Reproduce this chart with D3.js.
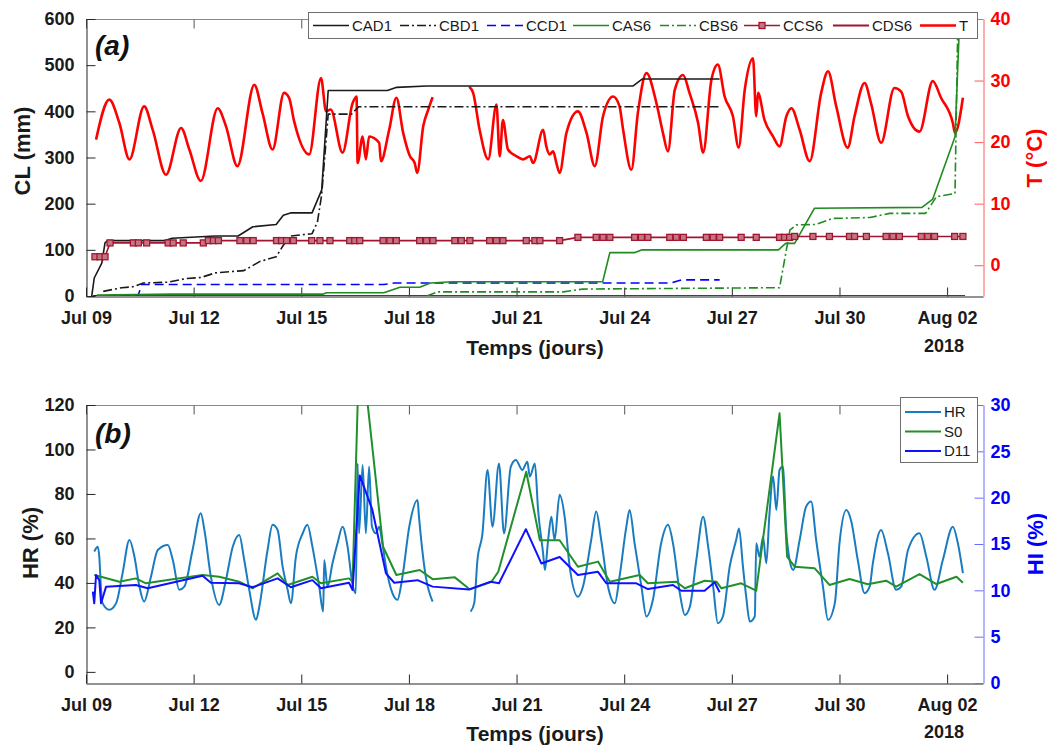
<!DOCTYPE html>
<html>
<head>
<meta charset="utf-8">
<script src="https://cdn.jsdelivr.net/npm/d3@7"></script>
<style>
  body { margin: 0; background: #fff; }
  svg { display: block; font-family: "Liberation Sans", Arial, sans-serif; }
</style>
</head>
<body>
<svg width="1047" height="748"></svg>
<script>
/* ===============================
   Data  (x = days since Jul 09 2018 00:00)
   =============================== */
const xTickDays = [0, 3, 6, 9, 12, 15, 18, 21, 24];
const clTicks = [0, 100, 200, 300, 400, 500, 600];
const tTicks = [0, 10, 20, 30, 40];
const hrTicks = [0, 20, 40, 60, 80, 100, 120];
const hiTicks = [0, 5, 10, 15, 20, 25, 30];
const namesA = ["CAD1", "CBD1", "CCD1", "CAS6", "CBS6", "CCS6", "CDS6", "T"];
const namesB = ["HR", "S0", "D11"];

const cad1 = [[0.16,0],[0.23,39],[0.44,71],[0.53,115],[0.6,120],[2.2,120],[2.4,125],[3.6,130],[4.24,130],
  [4.65,150],[5.3,155],[5.5,175],[5.7,180],[6.3,180],[6.57,230],[6.75,445],[8.4,445],[8.66,452],[9.5,455],
  [15.25,455],[15.5,470],[17.66,470]];
const cbd1 = [[0.48,10],[1.0,18],[1.3,20],[1.6,28],[2.3,30],[2.8,38],[3.2,40],[3.6,50],[4.4,55],[4.85,75],
  [5.3,85],[5.5,110],[5.7,130],[6.3,135],[6.45,160],[6.57,220],[6.75,394],[7.4,394],[7.6,410],[17.66,410]];
const ccd1 = [[0.2,0],[1.45,0],[1.55,25],[8.3,25],[8.6,28],[16.3,28],[16.6,35],[17.66,35]];
const cas6 = [[0.3,2],[2.4,4],[6.6,4],[6.7,7],[8.3,7],[8.75,19],[9.3,19],[9.6,28],[10.2,31],[14.4,31],
  [14.6,94],[15.3,94],[15.5,100],[19.3,100],[19.5,114],[19.75,114],[20.3,190],[23.3,192],[23.6,210],
  [24.22,345],[24.35,600]];
const cbs6 = [[9.5,0],[9.8,9],[13.3,9],[13.85,15],[19.33,18],[19.62,143],[19.8,154],[20.35,155],[20.8,168],
  [21.85,170],[22.4,179],[23.4,179],[23.7,215],[24.22,222],[24.3,600]];
const ccs6 = [[0.25,85],[0.39,85],[0.53,85],[0.67,115],[1.32,115],[1.46,115],[1.69,115],[2.29,115],[2.43,115],
  [2.71,115],[3.27,115],[3.41,120],[3.55,120],[3.69,120],[4.29,120],[4.48,120],[4.66,120],[5.31,120],[5.45,120],
  [5.59,120],[5.78,120],[6.29,120],[6.52,120],[6.8,120],[7.35,120],[7.49,120],[7.63,120],[8.28,120],[8.47,120],
  [8.65,120],[9.3,120],[9.49,120],[9.67,120],[10.28,120],[10.46,120],[10.7,120],[11.25,120],[11.44,120],
  [11.62,120],[12.27,120],[12.51,120],[12.65,120],[13.2,120],[13.71,127],[14.22,127],[14.41,127],[14.6,127],
  [15.29,127],[15.48,127],[15.66,127],[16.27,127],[16.45,127],[16.65,127],[17.29,127],[17.48,127],[17.66,127],
  [18.26,127],[18.68,127],[19.33,127],[19.47,127],[19.61,127],[19.75,129],[20.26,129],[20.72,129],[21.28,129],
  [21.42,129],[21.75,129],[22.3,129],[22.49,129],[22.67,129],[23.28,129],[23.46,129],[23.65,129],[24.21,129],
  [24.44,129]];
const cds6 = [[0.2,0],[24.5,0]];
const tAir = [[0.28,20.4],[0.65,26.9],[0.93,23.1],[1.21,17.2],[1.62,25.8],[1.86,22.0],[2.23,14.7],[2.65,22.3],
  [2.88,18.8],[3.2,13.7],[3.67,25.5],[3.9,22.6],[4.22,16.1],[4.69,29.3],[4.92,24.7],[5.2,18.8],[5.52,28.0],
  [5.66,27.2],[5.8,23.4],[6.22,18.0],[6.55,30.4],[6.69,25.0],[6.82,25.3],[7.15,18.3],[7.43,26.3],[7.54,27.4],
  [7.57,16.6],[7.71,20.9],[7.8,17.2],[7.89,20.9],[8.17,19.9],[8.22,16.9],[8.45,22.0],[8.65,27.2],[8.84,21.5],
  [9.03,17.7],[9.16,16.6],[9.23,15.0],[9.4,22.6],[9.54,25.3],[9.66,27.3],[10.0,null],[10.68,29.0],[10.79,28.0],
  [10.97,22.0],[11.21,17.2],[11.44,26.1],[11.53,17.7],[11.62,23.6],[11.76,18.8],[12.0,17.7],[12.18,17.2],
  [12.37,17.7],[12.46,16.6],[12.74,22.0],[12.83,19.3],[12.92,18.0],[13.02,18.5],[13.11,16.6],[13.2,15.0],
  [13.39,21.5],[13.71,25.0],[13.95,21.5],[14.18,16.1],[14.41,24.2],[14.69,27.4],[14.87,25.8],[14.97,22.0],
  [15.2,15.5],[15.38,24.7],[15.62,31.2],[15.9,26.3],[16.08,21.5],[16.22,18.5],[16.41,28.5],[16.64,30.9],
  [16.82,28.0],[17.06,23.1],[17.2,18.3],[17.43,30.1],[17.61,32.6],[17.8,27.4],[18.03,24.2],[18.19,19.1],
  [18.36,28.5],[18.59,33.6],[18.68,24.2],[18.73,28.0],[18.91,23.6],[19.15,20.9],[19.33,19.3],[19.52,24.2],
  [19.66,25.5],[19.89,22.0],[20.17,16.9],[20.49,28.0],[20.68,31.5],[20.91,25.8],[21.23,19.1],[21.42,24.2],
  [21.7,29.6],[21.88,26.3],[22.16,19.9],[22.53,28.8],[22.72,28.2],[22.91,24.2],[23.23,21.7],[23.6,29.9],
  [23.83,27.2],[24.16,23.1],[24.22,21.5],[24.44,27.2]];

const hr = [[0.23,54.1],[0.33,56.3],[0.37,51.8],[0.42,36.9],[0.46,30.9],[0.65,27.9],[0.84,30.9],[1.02,44.4],
  [1.21,59.3],[1.35,51.8],[1.49,38.3],[1.62,31.6],[1.81,42.8],[2.0,54.8],[2.28,57.1],[2.42,50.3],[2.6,36.9],
  [2.74,38.3],[2.97,54.8],[3.2,71.3],[3.3,63.8],[3.48,42.8],[3.71,30.1],[3.9,41.3],[4.09,56.3],[4.27,61.6],
  [4.41,50.3],[4.55,36.9],[4.74,23.4],[4.83,29.3],[5.06,54.8],[5.2,66.1],[5.34,63.8],[5.48,47.3],[5.62,36.9],
  [5.71,30.9],[5.85,51.8],[6.04,62.3],[6.17,66.1],[6.31,56.3],[6.5,38.3],[6.61,27.1],[6.64,50.3],[6.73,38.3],
  [6.87,48.8],[7.01,57.8],[7.15,65.3],[7.29,56.3],[7.43,39.1],[7.52,35.4],[7.57,93.7],[7.61,62.3],[7.71,93.0],
  [7.8,62.3],[7.89,92.3],[7.97,65.3],[8.08,62.3],[8.17,65.3],[8.26,57.8],[8.36,47.3],[8.54,35.4],[8.68,32.4],
  [8.82,42.8],[9.01,65.3],[9.24,77.3],[9.28,69.8],[9.47,42.8],[9.66,31.6],[10.2,null],[10.72,27.1],[10.82,30.9],
  [10.91,50.3],[11.05,62.3],[11.19,90.8],[11.33,65.3],[11.51,93.7],[11.65,62.3],[11.84,92.3],[11.98,95.3],
  [12.16,90.8],[12.3,94.5],[12.37,87.8],[12.51,93.7],[12.6,72.8],[12.74,53.3],[12.79,45.8],[12.88,59.3],
  [12.97,69.8],[13.06,59.3],[13.2,79.6],[13.34,69.8],[13.48,47.3],[13.71,33.8],[13.85,38.3],[14.08,59.3],
  [14.22,72.1],[14.36,59.3],[14.55,38.3],[14.74,30.9],[14.87,42.8],[15.06,65.3],[15.15,72.8],[15.29,57.8],
  [15.48,38.3],[15.62,24.9],[15.8,32.4],[16.03,57.8],[16.22,66.1],[16.36,57.8],[16.55,35.4],[16.69,25.6],
  [16.83,29.3],[17.01,50.3],[17.2,69.8],[17.34,56.3],[17.48,38.3],[17.61,21.9],[17.75,24.9],[17.94,47.3],
  [18.12,59.3],[18.2,64.5],[18.31,47.3],[18.4,33.8],[18.5,22.6],[18.64,24.9],[18.68,57.8],[18.77,51.8],
  [18.87,60.8],[18.96,48.8],[19.05,71.3],[19.15,87.8],[19.24,72.8],[19.33,90.8],[19.42,92.3],[19.52,62.3],
  [19.61,50.3],[19.71,45.8],[19.89,59.3],[20.07,74.3],[20.21,76.6],[20.35,59.3],[20.54,38.3],[20.68,23.4],
  [20.87,30.9],[21.0,57.8],[21.19,72.8],[21.32,68.3],[21.51,50.3],[21.7,35.4],[21.84,38.3],[21.93,48.8],
  [22.16,63.8],[22.35,53.3],[22.58,36.9],[22.72,38.3],[22.91,54.8],[23.23,62.3],[23.42,51.8],[23.65,36.9],
  [23.88,50.3],[24.16,65.3],[24.3,57.8],[24.44,44.4]];
const s0 = [[0.23,11.65],[0.42,11.47],[0.93,10.93],[1.39,11.29],[1.67,10.76],[2.42,11.2],[3.25,11.65],
  [3.71,11.47],[4.27,10.93],[4.64,10.22],[5.34,11.84],[5.62,10.58],[6.31,11.47],[6.55,10.76],[7.33,11.29],
  [7.43,10.93],[7.63,38],[8.28,14.7],[8.65,11.65],[9.3,12.19],[9.67,11.19],[10.28,11.4],[10.7,10.1],
  [11.3,10.93],[11.49,12.0],[12.27,22.8],[12.65,15.4],[13.2,15.4],[13.71,12.55],[14.27,13.1],[14.6,10.93],
  [15.43,11.65],[15.66,10.76],[16.45,10.93],[16.69,10.22],[17.24,11.04],[17.57,10.93],[17.71,10.22],
  [18.26,10.76],[18.68,9.96],[19.33,29.1],[19.54,13.63],[19.75,12.55],[20.31,12.37],[20.72,10.58],
  [21.28,11.22],[21.79,10.65],[22.3,11.04],[22.58,10.4],[23.23,11.76],[23.7,10.68],[24.26,11.47],[24.44,10.82]];
const d11 = [[0.19,9.85],[0.23,8.6],[0.28,11.65],[0.37,11.1],[0.42,8.6],[0.56,10.4],[1.39,10.58],[1.72,10.22],
  [3.25,11.58],[3.48,10.82],[4.27,10.76],[4.64,10.33],[5.34,11.29],[5.71,10.33],[6.31,11.1],[6.55,10.22],
  [7.33,10.82],[7.43,10.04],[7.63,22.4],[7.98,18.7],[8.36,11.84],[8.59,10.82],[9.24,11.1],[9.66,10.4],
  [10.68,10.1],[11.28,10.93],[11.51,10.76],[12.26,16.6],[12.69,12.9],[13.2,13.6],[13.71,11.65],[14.27,12.0],
  [14.5,10.76],[15.34,10.76],[15.66,10.14],[16.36,10.58],[16.59,9.96],[17.24,9.96],[17.52,10.87],[17.66,9.79]];

/* ===============================
   Layout + scales
   =============================== */
let svg = d3.select("svg");
let L = 86, R = 983;
let topA = 19, botA = 296, topB = 405, botB = 683;
let t0 = Date.UTC(2018, 6, 9);
function toDate(d) { return new Date(t0 + d * 864e5); }

let x = d3.scaleUtc().domain([toDate(0), toDate(25)]).range([L, R]);
let yCL = d3.scaleLinear().domain([0, 600]).range([botA, topA]);
let yT = d3.scaleLinear().domain([-5, 40]).range([botA, topA]);
let yHR = d3.scaleLinear().domain([-5, 120]).range([botB, topB]);
let yHI = d3.scaleLinear().domain([0, 30]).range([botB, topB]);

let defs = svg.append("defs");
defs.append("clipPath").attr("id", "clipA").append("rect")
    .attr("x", L).attr("y", topA).attr("width", R - L).attr("height", botA - topA);
defs.append("clipPath").attr("id", "clipB").append("rect")
    .attr("x", L).attr("y", topB).attr("width", R - L).attr("height", botB - topB);

/* ===============================
   Axes frame for one panel
   =============================== */
function frame(top, bottom, yLeft, leftTicks, yRight, rightTicks, rightColor, rightLine) {
    let xTicks = xTickDays.map(toDate);

    svg.append("line")
        .attr("x1", L).attr("x2", R).attr("y1", top + 0.5).attr("y2", top + 0.5)
        .attr("stroke", "#8a8a8a");
    let gt = svg.append("g").attr("transform", `translate(0,${top + 0.5})`)
        .call(d3.axisTop(x).tickValues(xTicks).tickSize(-9).tickSizeOuter(0).tickFormat(""));
    gt.select(".domain").remove();
    gt.selectAll("line").attr("stroke", "#555");

    let gb = svg.append("g").attr("transform", `translate(0,${bottom + 0.5})`)
        .call(d3.axisBottom(x).tickValues(xTicks).tickSize(-9).tickSizeOuter(0)
            .tickPadding(15).tickFormat(d3.utcFormat("%b %d")));
    gb.select(".domain").attr("stroke", "#262626");
    gb.selectAll("line").attr("stroke", "#262626");
    gb.selectAll("text").attr("font-size", 18).attr("font-weight", "bold")
        .attr("fill", "#1a1a1a").attr("font-family", "Liberation Sans, Arial");

    let gl = svg.append("g").attr("transform", `translate(${L + 0.5},0)`)
        .call(d3.axisLeft(yLeft).tickValues(leftTicks).tickSize(-9).tickSizeOuter(0).tickPadding(12));
    gl.select(".domain").attr("stroke", "#262626");
    gl.selectAll("line").attr("stroke", "#262626");
    gl.selectAll("text").attr("font-size", 18).attr("font-weight", "bold")
        .attr("fill", "#1a1a1a").attr("font-family", "Liberation Sans, Arial");

    let gr = svg.append("g").attr("transform", `translate(${R + 0.5},0)`)
        .call(d3.axisRight(yRight).tickValues(rightTicks).tickSize(-9).tickSizeOuter(0).tickPadding(7));
    gr.select(".domain").attr("stroke", rightLine);
    gr.selectAll("line").attr("stroke", rightLine);
    gr.selectAll("text").attr("font-size", 18).attr("font-weight", "bold")
        .attr("fill", rightColor).attr("font-family", "Liberation Sans, Arial");
}

frame(topA, botA, yCL, clTicks, yT, tTicks, "#ff0000", "#ff5a5a");
frame(topB, botB, yHR, hrTicks, yHI, hiTicks, "#0000ff", "#6b6bff");

/* ===============================
   Axis titles
   =============================== */
function label(txt, px, py, rot, color, size) {
    svg.append("text")
        .attr("transform", `translate(${px},${py}) rotate(${rot})`)
        .attr("text-anchor", "middle")
        .attr("dy", "0.35em")
        .attr("font-size", size)
        .attr("font-weight", "bold")
        .attr("fill", color)
        .text(txt);
}
label("CL (mm)", 22, 151, -90, "#1a1a1a", 22);
label("T (°C)", 1034, 158, -90, "#ff0000", 22);
label("HR (%)", 30, 543, -90, "#1a1a1a", 22);
label("HI (%)", 1035, 544, -90, "#0000ff", 22);
label("Temps (jours)", 535, 348, 0, "#1a1a1a", 21);
label("Temps (jours)", 535, 734, 0, "#1a1a1a", 21);
label("2018", 944, 346, 0, "#1a1a1a", 18);
label("2018", 944, 732, 0, "#1a1a1a", 18);

svg.append("text").attr("x", 95).attr("y", 55)
    .attr("font-size", 28).attr("font-weight", "bold").attr("font-style", "italic")
    .attr("fill", "#111").text("(a)");
svg.append("text").attr("x", 95).attr("y", 443)
    .attr("font-size", 28).attr("font-weight", "bold").attr("font-style", "italic")
    .attr("fill", "#111").text("(b)");

/* ===============================
   Series lines
   =============================== */
function lineGen(yS, curve) {
    return d3.line()
        .defined(d => d[1] !== null)
        .curve(curve || d3.curveLinear)
        .x(d => x(toDate(d[0])))
        .y(d => yS(d[1]));
}

let panelA = svg.append("g").attr("clip-path", "url(#clipA)");
let panelB = svg.append("g").attr("clip-path", "url(#clipB)");

let red = "#ff0000", dred = "#a2142f", green = "#1f8c1f", blue = "#0000ff";
let seriesA = [
    { data: tAir, y: yT, color: red, w: 2.6, dash: null, curve: d3.curveMonotoneX },
    { data: cds6, y: yCL, color: dred, w: 2, dash: null },
    { data: cad1, y: yCL, color: "#1a1a1a", w: 1.6, dash: null },
    { data: cbd1, y: yCL, color: "#1a1a1a", w: 1.6, dash: "9,3,2,3" },
    { data: ccd1, y: yCL, color: blue, w: 1.6, dash: "9,5" },
    { data: cas6, y: yCL, color: green, w: 1.6, dash: null },
    { data: cbs6, y: yCL, color: green, w: 1.6, dash: "9,3,2,3" },
    { data: ccs6, y: yCL, color: dred, w: 1.6, dash: null }
];
seriesA.forEach(s => {
    panelA.append("path")
        .attr("d", lineGen(s.y, s.curve)(s.data))
        .attr("fill", "none")
        .attr("stroke", s.color)
        .attr("stroke-width", s.w)
        .attr("stroke-dasharray", s.dash)
        .attr("stroke-linejoin", "round");
});

panelA.selectAll(".sq").data(ccs6).enter().append("rect")
    .attr("x", d => x(toDate(d[0])) - 3)
    .attr("y", d => yCL(d[1]) - 3)
    .attr("width", 6).attr("height", 6)
    .attr("fill", "#c47582")
    .attr("stroke", dred)
    .attr("stroke-width", 1.3);

let hrColor = "#1a7cc0", s0Color = "#22902a", d11Color = "#1010ff";
let seriesB = [
    { data: hr, y: yHR, color: hrColor, curve: d3.curveMonotoneX },
    { data: s0, y: yHI, color: s0Color },
    { data: d11, y: yHI, color: d11Color }
];
seriesB.forEach(s => {
    panelB.append("path")
        .attr("d", lineGen(s.y, s.curve)(s.data))
        .attr("fill", "none")
        .attr("stroke", s.color)
        .attr("stroke-width", 2)
        .attr("stroke-linejoin", "round");
});

/* ===============================
   Legends
   =============================== */
let legA = svg.append("g");
legA.append("rect")
    .attr("x", 308.5).attr("y", 12.5).attr("width", 669).attr("height", 26)
    .attr("fill", "#fff").attr("stroke", "#6e6e6e");
let legStyleA = [
    { color: "#1a1a1a", dash: null, w: 1.6 },
    { color: "#1a1a1a", dash: "9,3,2,3", w: 1.6 },
    { color: blue, dash: "9,5", w: 1.6 },
    { color: green, dash: null, w: 1.6 },
    { color: green, dash: "9,3,2,3", w: 1.6 },
    { color: dred, dash: null, w: 1.6, marker: true },
    { color: dred, dash: null, w: 2 },
    { color: red, dash: null, w: 2.6 }
];
let legX = [313, 400, 487, 573, 660, 744, 833, 920];
namesA.forEach((n, i) => {
    let s = legStyleA[i];
    legA.append("line")
        .attr("x1", legX[i]).attr("x2", legX[i] + 36).attr("y1", 25.5).attr("y2", 25.5)
        .attr("stroke", s.color).attr("stroke-width", s.w).attr("stroke-dasharray", s.dash);
    if (s.marker) {
        legA.append("rect")
            .attr("x", legX[i] + 15).attr("y", 22.5).attr("width", 6).attr("height", 6)
            .attr("fill", "#c47582").attr("stroke", dred).attr("stroke-width", 1.3);
    }
    legA.append("text")
        .attr("x", legX[i] + 39).attr("y", 25.5).attr("dy", "0.35em")
        .attr("font-size", 15).attr("fill", "#1a1a1a")
        .text(n);
});

let legB = svg.append("g");
legB.append("rect")
    .attr("x", 900.5).attr("y", 397.5).attr("width", 77).attr("height", 65)
    .attr("fill", "#fff").attr("stroke", "#6e6e6e");
let legColB = [hrColor, s0Color, d11Color];
namesB.forEach((n, i) => {
    let ly = 412 + i * 19.5;
    legB.append("line")
        .attr("x1", 905).attr("x2", 941).attr("y1", ly).attr("y2", ly)
        .attr("stroke", legColB[i]).attr("stroke-width", 2);
    legB.append("text")
        .attr("x", 944).attr("y", ly).attr("dy", "0.35em")
        .attr("font-size", 15).attr("fill", "#1a1a1a")
        .text(n);
});
</script>
</body>
</html>
